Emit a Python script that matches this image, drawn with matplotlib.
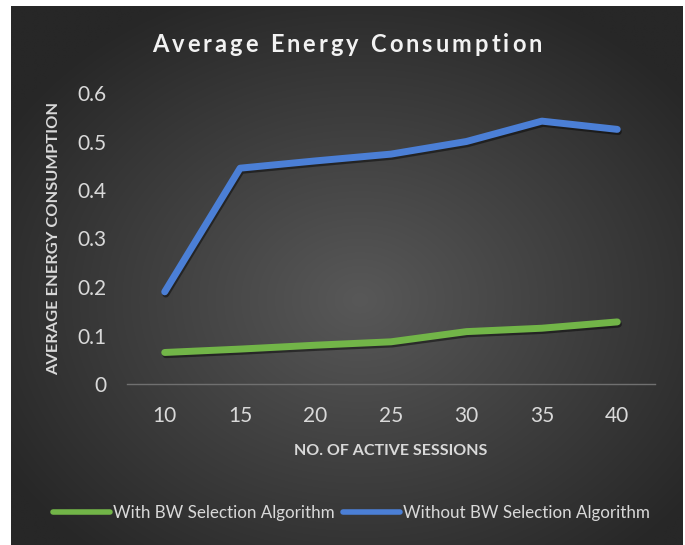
import numpy as np
import matplotlib
matplotlib.use('Agg')
import matplotlib.pyplot as plt
import matplotlib.patheffects as pe

# ---------------- data ----------------
sessions = [10, 15, 20, 25, 30, 35, 40]
with_bw = [0.065, 0.072, 0.080, 0.087, 0.108, 0.115, 0.128]
without_bw = [0.19, 0.445, 0.460, 0.474, 0.500, 0.542, 0.525]
y_ticks = [0, 0.1, 0.2, 0.3, 0.4, 0.5, 0.6]
y_tick_labels = ['0', '0.1', '0.2', '0.3', '0.4', '0.5', '0.6']
x_tick_labels = ['10', '15', '20', '25', '30', '35', '40']
title = 'Average Energy Consumption'
xlabel = 'NO. OF ACTIVE SESSIONS'
ylabel = 'AVERAGE ENERGY CONSUMPTION'
series_labels = ['With BW Selection Algorithm', 'Without BW Selection Algorithm']

FONT = 'Lato'
TXT = '#d9d9d9'
W, H = 685, 545
fig = plt.figure(figsize=(W / 100, H / 100), dpi=100, facecolor='white')

# background (pixel coordinates, y downwards)
bg = fig.add_axes([0, 0, 1, 1])
bg.set_xlim(0, W)
bg.set_ylim(H, 0)
bg.axis('off')
x0, x1, y0, y1 = 11, 683, 6, 545
gx = np.linspace(x0, x1, 400)
gy = np.linspace(y0, y1, 350)
X, Y = np.meshgrid(gx, gy)
cx, cy = 360, 300
r = np.sqrt(((X - cx) / (x1 - x0)) ** 2 + ((Y - cy) / (y1 - y0)) ** 2)
r = np.clip(r / 0.62, 0, 1)[..., None]
inner = np.array([0x58, 0x58, 0x58]) / 255
outer = np.array([0x27, 0x27, 0x27]) / 255
img = inner * (1 - r) + outer * r
bg.imshow(img, extent=(x0, x1, y1, y0), aspect='auto', interpolation='bilinear', zorder=0)

renderer = fig.canvas.get_renderer()


def text_width(s, **kw):
    t = bg.text(0, 0, s, **kw)
    w = t.get_window_extent(renderer).width
    t.remove()
    return w


def fit_size(s, target, **kw):
    w = text_width(s, fontsize=12, **kw)
    return 12 * target / w


# ---------------- main axes ----------------
ax = fig.add_axes([127 / W, 1 - 384 / H, (655 - 127) / W, (384 - 93) / H])
ax.set_facecolor('none')
ax.set_xlim(7.5, 42.5)
ax.set_ylim(0, 0.6)
for s in ax.spines.values():
    s.set_visible(False)
ax.axhline(0, color='#707070', lw=1.0, zorder=1, clip_on=False)

shadow = [pe.SimpleLineShadow(offset=(0.8, -1.6), shadow_color='black', alpha=0.45), pe.Normal()]
l1, = ax.plot(sessions, with_bw, color='#72b548', lw=5, solid_capstyle='round',
              solid_joinstyle='round', label=series_labels[0], path_effects=shadow, zorder=3)
l2, = ax.plot(sessions, without_bw, color='#4b7fd6', lw=5, solid_capstyle='round',
              solid_joinstyle='round', label=series_labels[1], path_effects=shadow, zorder=3)

ax.set_xticks(sessions)
ax.set_xticklabels(x_tick_labels)
ax.set_yticks(y_ticks)
ax.set_yticklabels(y_tick_labels)
ax.tick_params(axis='both', length=0, labelsize=15, labelcolor=TXT)
ax.tick_params(axis='x', pad=16)
ax.tick_params(axis='y', pad=15)
for lab in ax.get_xticklabels() + ax.get_yticklabels():
    lab.set_fontfamily(FONT)

# axis titles
fs_x = fit_size(xlabel, 193, family=FONT, weight='bold')
bg.text(391, 451, xlabel, fontsize=fs_x, family=FONT, weight='bold', color=TXT,
        ha='center', va='center')
fs_y = fit_size(ylabel, 271, family=FONT, weight='bold')
bg.text(54, 238, ylabel, fontsize=fs_y, family=FONT, weight='bold', color=TXT,
        ha='center', va='center', rotation=90)

# letter-spaced title
fs_t = 17
tkw = dict(fontsize=fs_t, family=FONT, weight='bold')
bar_w = text_width('|', **tkw)
offs = [0.0] + [text_width(title[:i] + '|', **tkw) - bar_w for i in range(1, len(title))]
nat = text_width(title, **tkw)
spacing = (390 - nat) / (len(title) - 1)
for i, ch in enumerate(title):
    if ch == ' ':
        continue
    bg.text(152 + offs[i] + i * spacing, 52.5, ch, color='#f2f2f2', ha='left',
            va='baseline', **tkw)

# legend
fs_l = fit_size(series_labels[0], 221, family=FONT)
px = fs_l * 100 / 72
leg = fig.legend([l1, l2], series_labels, ncol=2, loc='center',
                 bbox_to_anchor=(351.5 / W, 1 - 513 / H), frameon=False,
                 prop={'family': FONT, 'size': fs_l}, labelcolor=TXT,
                 handlelength=57 / px, handletextpad=3 / px, columnspacing=9 / px,
                 borderpad=0, borderaxespad=0)
for ln in leg.get_lines():
    ln.set_linewidth(4)
    ln.set_solid_capstyle('round')
    ln.set_path_effects([])

fig.savefig('out.png', dpi=100, facecolor='white')
